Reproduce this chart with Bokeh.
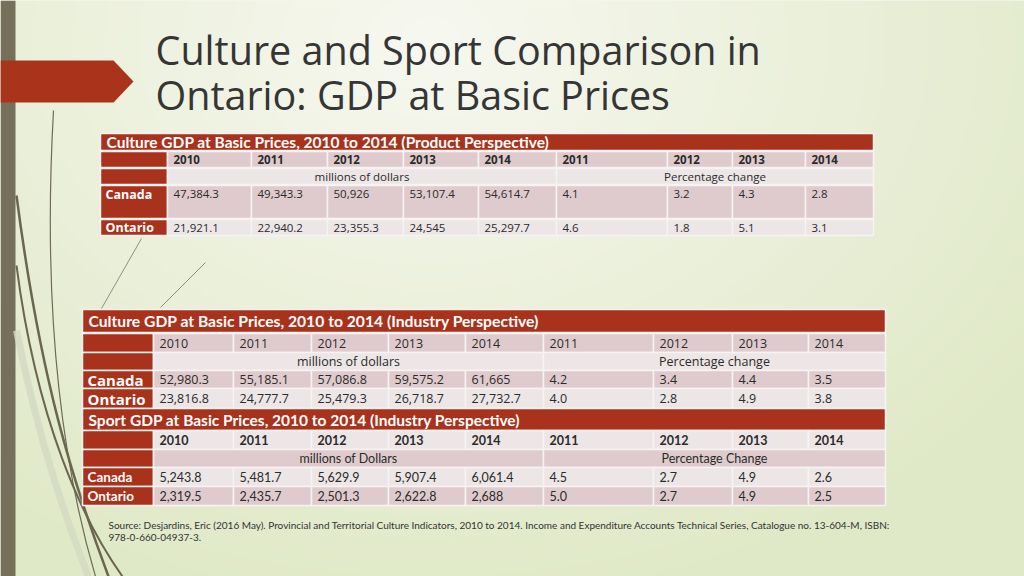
import numpy as np
from bokeh.plotting import figure
from bokeh.models import Range1d
from bokeh.core.properties import value
from bokeh.embed import file_html
from bokeh.resources import INLINE

# ---------------- data ----------------
title_lines = ["Culture and Sport Comparison in", "Ontario: GDP at Basic Prices"]
years = ["2010", "2011", "2012", "2013", "2014"]
pct_years = ["2011", "2012", "2013", "2014"]
regions = ["Canada", "Ontario"]

t1_title = "Culture GDP at Basic Prices, 2010 to 2014 (Product Perspective)"
t1_units = ["millions of dollars", "Percentage change"]
t1_canada = ["47,384.3", "49,343.3", "50,926", "53,107.4", "54,614.7", "4.1", "3.2", "4.3", "2.8"]
t1_ontario = ["21,921.1", "22,940.2", "23,355.3", "24,545", "25,297.7", "4.6", "1.8", "5.1", "3.1"]

t2_title = "Culture GDP at Basic Prices, 2010 to 2014 (Industry Perspective)"
t2_units = ["millions of dollars", "Percentage change"]
t2_canada = ["52,980.3", "55,185.1", "57,086.8", "59,575.2", "61,665", "4.2", "3.4", "4.4", "3.5"]
t2_ontario = ["23,816.8", "24,777.7", "25,479.3", "26,718.7", "27,732.7", "4.0", "2.8", "4.9", "3.8"]

t3_title = "Sport GDP at Basic Prices, 2010 to 2014 (Industry Perspective)"
t3_units = ["millions of Dollars", "Percentage Change"]
t3_canada = ["5,243.8", "5,481.7", "5,629.9", "5,907.4", "6,061.4", "4.5", "2.7", "4.9", "2.6"]
t3_ontario = ["2,319.5", "2,435.7", "2,501.3", "2,622.8", "2,688", "5.0", "2.7", "4.9", "2.5"]

source_lines = [
    "Source: Desjardins, Eric (2016 May).  Provincial and Territorial Culture Indicators, 2010 to 2014.  Income and Expenditure Accounts Technical Series, Catalogue no. 13-604-M, ISBN:",
    "978-0-660-04937-3.",
]

# ---------------- styles ----------------
RED = "#a8321b"
PINK = "#dfcbcd"
LIGHT = "#ece6e6"
TXT = "#2b2b2b"
GOTHIC = "Open Sans"
CALIBRI = "Lato"

p = figure(width=1024, height=576, x_range=Range1d(0, 1024), y_range=Range1d(576, 0),
           output_backend="svg", toolbar_location=None, min_border=0)
p.axis.visible = False
p.grid.visible = False
p.outline_line_color = None
p.background_fill_color = "#eaefdc"
p.border_fill_color = "#eaefdc"

# background gradient (style only)
gw, gh = 256, 144
gx = np.linspace(0, 1024, gw)[None, :]
gy = np.linspace(0, 576, gh)[:, None]
d = np.sqrt((gx - 430) ** 2 + ((gy - 40) * 1.3) ** 2)
t = np.clip(d / 750.0, 0, 1)
c0 = np.array([247, 248, 240])
c1 = np.array([224, 233, 199])
rgb = c0[None, None, :] * (1 - t[..., None]) + c1[None, None, :] * t[..., None]
img = np.empty((gh, gw), dtype=np.uint32)
view = img.view(dtype=np.uint8).reshape((gh, gw, 4))
view[..., 0] = rgb[..., 0].astype(np.uint8)
view[..., 1] = rgb[..., 1].astype(np.uint8)
view[..., 2] = rgb[..., 2].astype(np.uint8)
view[..., 3] = 255
p.image_rgba(image=[img], x=0, y=0, dw=1024, dh=576)

# decorative left bar, strands and arrow
p.quad(left=0, right=15, top=0, bottom=576, fill_color="#76705b", line_color=None)
p.bezier(x0=[16], y0=[330], x1=[88], y1=[576], cx0=[40], cy0=[450], cx1=[70], cy1=[530],
         line_color="#d3d9c2", line_width=7, line_alpha=0.8)
p.bezier(x0=[53], y0=[110], x1=[95], y1=[576], cx0=[44], cy0=[270], cx1=[52], cy1=[430],
         line_color="#6e6a55", line_width=1.2)
p.bezier(x0=[16], y0=[195], x1=[108], y1=[576], cx0=[40], cy0=[380], cx1=[72], cy1=[480],
         line_color="#6b6650", line_width=2.5)
p.bezier(x0=[16], y0=[265], x1=[122], y1=[576], cx0=[36], cy0=[420], cx1=[82], cy1=[520],
         line_color="#6b6650", line_width=2)
p.segment(x0=[141, 205], y0=[238, 262], x1=[101, 160], y1=[308, 307],
          line_color="#8f8f80", line_width=1)
p.patch(x=[0, 113, 133, 113, 0], y=[60, 60, 81, 102, 102], fill_color="#a9341b", line_color=None)

# title
p.text(x=[155, 155], y=[49, 94], text=title_lines, text_font=value(GOTHIC),
       text_font_size="39.5px", text_color="#353535", text_baseline="alphabetic")


def cells(left, right, top, bottom, color):
    p.quad(left=left, right=right, top=top, bottom=bottom, fill_color=color,
           line_color="#f7f3f3", line_width=1.5)


def label(xs, ys, txt, font, size, bold=False, color=TXT, align="left", baseline="middle"):
    p.text(x=xs, y=ys, text=txt, text_font=value(font), text_font_size=size,
           text_font_style="bold" if bold else "normal", text_color=color,
           text_align=align, text_baseline=baseline)


def table(xe, title, title_row, rows, units, canada, ontario, font, vsize, ybold,
          lab_font, lab_size, year_color, unit_color, can_color, ont_color,
          title_font_size, canada_top=False):
    ncol = len(xe) - 1
    L, R = xe[0], xe[-1]
    p.quad(left=L, right=R, top=title_row[0], bottom=title_row[1], fill_color=RED,
           line_color="#f7f3f3", line_width=1.5)
    label([L + 6], [(title_row[0] + title_row[1]) / 2], [title], CALIBRI, title_font_size,
          bold=True, color="white")
    row_colors = [year_color, unit_color, can_color, ont_color]
    for i, (top, bot) in enumerate(rows):
        cells([L], [xe[1]], [top], [bot], RED)
        if i == 1:
            cells([xe[1], xe[6]], [xe[6], R], [top, top], [bot, bot], row_colors[i])
        else:
            cells(xe[1:-1], xe[2:], [top] * (ncol - 1), [bot] * (ncol - 1), row_colors[i])
    ym = (rows[0][0] + rows[0][1]) / 2
    label([x + 6 for x in xe[1:-1]], [ym] * (ncol - 1), years + pct_years, font, vsize, bold=ybold)
    um = (rows[1][0] + rows[1][1]) / 2
    label([(xe[1] + xe[6]) / 2, (xe[6] + R) / 2], [um, um], units, font, vsize, align="center")
    cm = rows[2][0] + 8.5 if canada_top else (rows[2][0] + rows[2][1]) / 2
    om = (rows[3][0] + rows[3][1]) / 2
    label([x + 6 for x in xe[1:-1]], [cm] * (ncol - 1), canada, font, vsize)
    label([x + 6 for x in xe[1:-1]], [om] * (ncol - 1), ontario, font, vsize)
    label([L + 5, L + 5], [cm, om], regions, lab_font, lab_size, bold=True, color="white")


xe1 = [100, 167, 251, 327, 403, 478, 556, 667, 732, 805, 873]
table(xe1, t1_title, (133, 150), [(151, 167), (168, 184), (185, 218), (219, 235)],
      t1_units, t1_canada, t1_ontario, GOTHIC, "11.5px", True, GOTHIC, "12.5px",
      PINK, LIGHT, PINK, LIGHT, "15.5px", canada_top=True)

xe2 = [82, 153, 233, 311, 388, 465, 543, 653, 732, 808, 885]
table(xe2, t2_title, (309, 332), [(333, 352), (352, 370), (370, 388), (388, 408)],
      t2_units, t2_canada, t2_ontario, GOTHIC, "12.5px", False, GOTHIC, "15px",
      PINK, LIGHT, PINK, LIGHT, "15.7px")
table(xe2, t3_title, (408, 430), [(430, 449), (449, 467), (467, 486), (486, 505)],
      t3_units, t3_canada, t3_ontario, CALIBRI, "12.5px", True, CALIBRI, "13.5px",
      LIGHT, PINK, LIGHT, PINK, "15.5px")

label([108, 108], [524, 537], source_lines, CALIBRI, "10px", color="#333333")

open("out.html", "w").write(file_html(p, INLINE))
